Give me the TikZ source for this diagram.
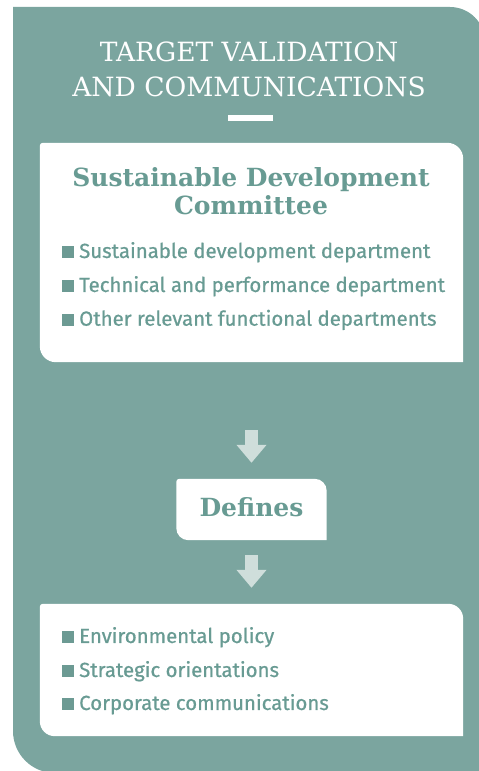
\documentclass[tikz,border=0pt]{standalone}
\usepackage{fontspec}
\setmainfont{Fira Sans}[FakeBold=0.7]
\newfontfamily\slab{DejaVu Serif}
\usetikzlibrary{arrows.meta, positioning, calc}
\definecolor{tealbg} {RGB}{123,165,159}
\definecolor{tealtx} {RGB}{104,155,147}
\definecolor{tealsq} {RGB}{108,154,147}
\definecolor{arrpale}{RGB}{207,222,219}
\tikzset{
  % empty frame, the white leaf is filled from its anchors
  LB/.style={rectangle,draw=none,fill=none,inner sep=0pt,
             minimum width=#1},
  LB/.default=423pt,
  % slab headings
  HD/.style={font=\slab\bfseries\fontsize{25}{28}\selectfont,
             text=tealtx,align=center,inner sep=0pt},
  % list lines with a square bullet
  LI/.style={anchor=base west,inner sep=0pt,text=tealtx,
             font=\fontsize{20.4}{24}\selectfont},
  % pale block arrows between the boxes
  BArr/.style={-{Triangle[length=18pt,width=29pt]},line width=13pt,
               color=arrpale},
}
% leaf shape: big radius top right and bottom left, small top left
\newcommand{\leafbox}[3]{%
  \fill[white] (#1.south east)
    -- ([yshift=-#2]#1.north east)
       arc[start angle=0,end angle=90,radius=#2]
    -- ([xshift=#3]#1.north west)
       arc[start angle=90,end angle=180,radius=#3]
    -- ([yshift=#2]#1.south west)
       arc[start angle=180,end angle=270,radius=#2]
    -- cycle;}
\newcommand{\sq}{\textcolor{tealsq}{\rule{12pt}{12pt}}\hspace{5pt}}

\begin{document}
\begin{tikzpicture}[x=1pt,y=1pt]
  \useasboundingbox (0,0) rectangle (479,771);
  % teal panel
  \fill[tealbg] (13,764) -- (450,764) arc[start angle=90,end angle=0,radius=35pt]
    -- (485,-2) -- (55,-2) arc[start angle=270,end angle=180,radius=42pt]
    -- cycle;

  % base of a two-line node is its last line
  \node[font=\slab\fontsize{26.5}{35}\selectfont,text=white,align=center,
        anchor=base,inner sep=0pt] at (249,674) (title)
        {TARGET VALIDATION\\AND COMMUNICATIONS};
  \node[fill=white,minimum width=45pt,minimum height=6pt,inner sep=0pt]
        at (250.5,653) (bar) {};

  % committee box
  \node[LB,minimum height=219pt] at (251.5,518.5) (comm) {};
  \leafbox{comm}{16pt}{3pt}
  \node[HD,anchor=base] at (251,556) (commhd)
        {Sustainable Development\\Committee};
  \node[LI] at (62,513) (sd1) {\sq Sustainable development department};
  \node[LI] at (62,479) (sd2) {\sq Technical and performance department};
  \node[LI] at (62,445.3) (sd3) {\sq Other relevant functional departments};

  % defines box
  \node[LB=150pt,minimum height=61pt] at (251.5,261.5) (defs) {};
  \leafbox{defs}{12pt}{3pt}
  \node[HD,anchor=base] at (251.5,254) (defshd) {Defines};

  % outcomes box
  \node[LB,minimum height=132pt] at (251.5,101) (outc) {};
  \leafbox{outc}{15pt}{3pt}
  \node[LI] at (62,128) (oc1) {\sq Environmental policy};
  \node[LI] at (62,94) (oc2) {\sq Strategic orientations};
  \node[LI] at (62,61) (oc3) {\sq Corporate communications};

  \draw[BArr,shorten <=68pt,shorten >=16pt] (comm) -- (defs);
  \draw[BArr,shorten <=15pt,shorten >=16pt] (defs) -- (outc);
\end{tikzpicture}
\end{document}
